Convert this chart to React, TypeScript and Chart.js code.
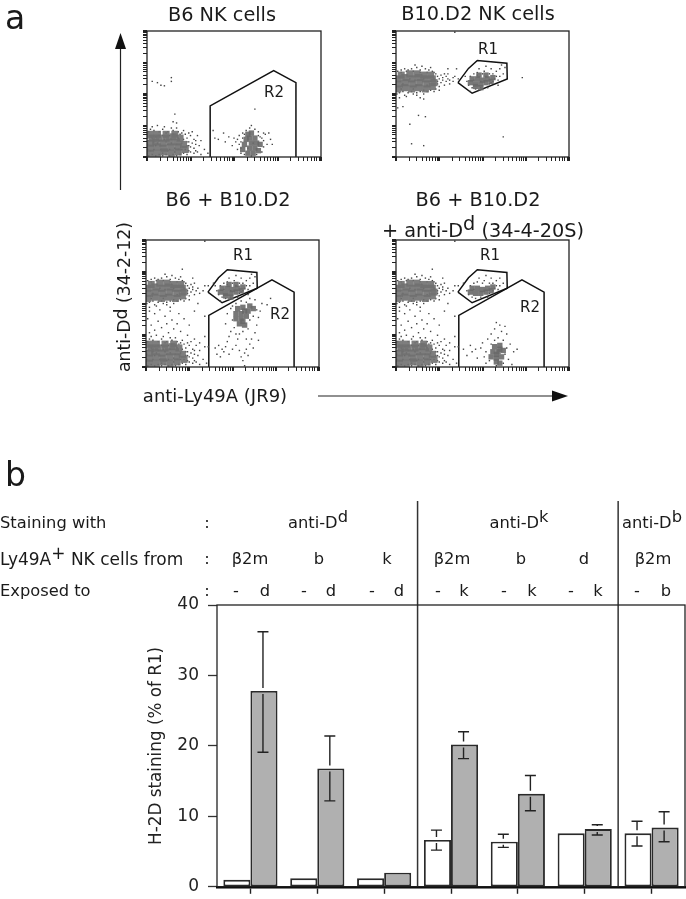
import React, { useEffect, useRef } from "react";
import { Chart, registerables } from "chart.js";

Chart.register(...registerables);

type P = number[];
const FONT = "'DejaVu Sans', sans-serif";

// ---- Bar chart values ----
const groups = ["anti-Dd β2m", "anti-Dd b", "anti-Dd k", "anti-Dk β2m", "anti-Dk b", "anti-Dk d", "anti-Db β2m"];
const unexposed = [1.0, 1.2, 1.2, 6.65, 6.4, 7.6, 7.6];
const exposed = [27.8, 16.8, 2.0, 20.2, 13.2, 8.2, 8.4];
const unexposedHigh = [null, null, null, 8.05, 7.45, null, 9.3];
const unexposedLow = [null, null, null, 5.2, 5.6, null, 5.8];
const exposedHigh = [36.2, 21.4, null, 22.0, 15.8, 8.8, 10.65];
const exposedLow = [19.1, 12.2, null, 18.2, 10.8, 7.35, 6.4];
const yTicks = [0, 10, 20, 30, 40];
const dividerAfterGroup = [2.5, 5.5];

// ---- Flow cytometry values, in percent of each axis (4 log decades = 100) ----
const gateR2: P[] = [[36.3, 0], [36.3, 40.6], [72.8, 68.6], [85.6, 59], [85.6, 0]];
const gateR1: P[] = [[35.8, 59], [41.9, 70.3], [47, 76.6], [64.1, 74.4], [64.3, 62], [44, 50.6], [35.8, 59]];

const lowLeftCore: P[] = [[2, 3], [6, 3], [10, 4], [14, 3], [18, 4], [2, 7], [6, 8], [10, 7], [14, 8], [18, 8], [22, 6], [2, 11], [5, 12], [9, 11], [13, 12], [17, 12], [21, 10], [3, 15], [7, 15], [11, 15], [15, 16], [19, 15], [2, 18], [6, 18], [11, 18], [16, 18]];
const lowLeftDots: P[] = [[1, 1], [3, 2], [5, 1], [7, 2], [9, 1], [11, 2], [13, 1], [15, 2], [17, 1], [19, 2], [21, 3], [23, 2], [22, 6], [24, 5], [25, 8], [23, 9], [26, 11], [24, 12], [27, 7], [28, 13], [23, 15], [25, 17], [22, 18], [20, 19], [18, 20], [15, 21], [12, 20], [9, 22], [7, 20], [4, 21], [2, 22], [1, 20], [3, 24], [10, 24], [14, 23], [17, 23], [21, 21], [6, 25], [0.5, 6], [0.5, 10], [0.5, 15], [4, 6], [8, 6], [12, 10], [16, 7], [20, 6], [6, 11], [10, 14], [14, 11], [18, 15], [3, 15], [7, 17], [11, 19], [15, 18], [13, 6], [17, 10], [30, 9], [29, 4], [31, 13], [27, 3], [33, 6], [29, 17], [26, 20], [31, 2], [35, 3], [2, 5], [5, 9], [9, 3], [12, 5], [16, 4], [20, 11], [23, 12], [8, 9], [11, 12], [14, 14], [18, 6], [21, 14], [4, 12], [7, 13], [1, 13], [5, 16], [9, 17], [13, 17], [17, 17], [19, 18], [24, 9], [27, 14], [25, 4], [28, 10], [24, 19], [28, 5]];

const upLeftCore: P[] = [[1, 54], [5, 55], [9, 54], [13, 55], [17, 54], [21, 56], [2, 58], [6, 59], [10, 58], [14, 59], [18, 58], [22, 59], [1, 62], [5, 63], [9, 62], [13, 63], [17, 62], [21, 62], [3, 65], [8, 66], [12, 66], [16, 65], [20, 65]];
const upLeftDots: P[] = [[0.5, 50], [2, 51], [4, 52], [7, 51], [9, 52], [12, 51], [14, 52], [16, 50], [18, 52], [20, 53], [23, 54], [25, 56], [24, 58], [26, 59], [27, 61], [25, 62], [24, 64], [26, 65], [23, 66], [21, 68], [19, 69], [17, 70], [14, 69], [12, 71], [9, 70], [7, 69], [5, 70], [3, 69], [1, 68], [11, 73], [15, 72], [20, 71], [29, 60], [30, 62], [28, 57], [31, 58], [4, 58], [8, 62], [12, 57], [16, 62], [20, 60], [6, 65], [11, 61], [15, 65], [3, 54], [10, 54], [18, 57], [22, 62], [33, 60], [34, 64], [2, 47], [6, 48], [14, 47], [3, 67], [6, 68], [10, 68], [14, 67], [18, 67], [22, 67], [24, 60], [25, 53], [22, 52], [10, 50], [5, 49], [12, 49], [16, 53], [27, 63], [28, 66]];

const r1Core: P[] = [[43, 59], [46, 58], [49, 58], [52, 59], [55, 60], [44, 62], [47, 62], [50, 61], [53, 62], [56, 63], [46, 56], [49, 55], [48, 65], [52, 65]];
const r1Dots: P[] = [[41, 60], [42, 57], [43, 64], [44, 55], [45, 66], [46, 54], [47, 67], [49, 55], [50, 66], [51, 68], [53, 55], [54, 58], [54, 66], [56, 60], [57, 62], [58, 64], [56, 66], [59, 61], [60, 64], [58, 68], [60, 70], [62, 66], [55, 70], [52, 72], [48, 70], [45, 61], [49, 60], [52, 64], [47, 65], [55, 59], [61, 73], [63, 71], [40, 64], [43, 52], [59, 57]];

const r2LowCoreB6: P[] = [[55, 6], [58, 3], [61, 3], [64, 5], [56, 10], [59, 7], [62, 7], [65, 10], [57, 14], [60, 11], [63, 11], [59, 15], [62, 15], [60, 19], [58, 18]];
const r2LowDotsB6: P[] = [[49, 9], [50, 15], [52, 6], [51, 12], [53, 17], [54, 3], [54, 12], [55, 19], [56, 2], [57, 21], [58, 7], [59, 23], [60, 1], [60, 25], [61, 11], [62, 22], [63, 2], [64, 20], [65, 16], [66, 4], [67, 13], [67, 8], [68, 18], [69, 10], [70, 19], [71, 14], [72, 10], [44, 19], [45, 12], [47, 16], [38, 21], [41, 14], [39, 15], [62, 38], [53, 10], [52, 14], [55, 15], [66, 15], [67, 19], [64, 17], [56, 18], [54, 7]];

const r2LowCoreMix: P[] = [[55, 8], [58, 7], [61, 8], [56, 12], [59, 12], [62, 13], [57, 16], [60, 17], [58, 4], [60, 3], [58, 10], [60, 14]];
const r2LowDotsMix: P[] = [[43, 17], [44, 12], [46, 14], [47, 7], [49, 15], [50, 19], [51, 8], [52, 3], [52, 12], [53, 22], [54, 5], [55, 18], [55, 26], [57, 21], [57, 30], [58, 1], [59, 23], [60, 33], [61, 28], [62, 3], [62, 21], [63, 10], [64, 15], [64, 26], [65, 6], [66, 18], [67, 2], [68, 12], [70, 14], [58, 35], [39, 14], [41, 9], [63, 32]];

const r2MidCore: P[] = [[52, 42], [55, 38], [57, 44], [60, 48], [54, 34], [58, 40], [62, 46], [56, 47], [53, 46], [57, 33], [55, 42], [59, 44], [52, 38], [56, 36]];
const r2MidDots: P[] = [[50, 37], [51, 31], [52, 26], [53, 22], [49, 28], [48, 24], [47, 20], [46, 16], [44, 14], [42, 17], [40, 15], [41, 10], [43, 8], [45, 12], [48, 10], [50, 14], [52, 17], [54, 13], [55, 8], [56, 5], [57, 11], [58, 14], [59, 9], [60, 18], [61, 22], [62, 15], [63, 27], [64, 33], [65, 39], [66, 44], [67, 50], [63, 53], [60, 54], [58, 51], [55, 52], [52, 50], [49, 46], [47, 42], [56, 28], [59, 30], [60, 37], [62, 40], [64, 45], [50, 48], [46, 34], [54, 26], [58, 22], [57, 1], [65, 21], [70, 49], [72, 54]];

const lowLeftDotsMix: P[] = [[2, 27], [5, 29], [9, 31], [13, 27], [16, 30], [12, 34], [7, 36], [3, 33], [1, 38], [5, 42], [11, 40], [15, 37], [18, 34], [20, 28], [24, 25], [28, 22], [31, 19], [36, 16], [8, 45], [14, 44], [19, 42], [22, 38], [25, 33], [2, 44], [34, 24]];

const outliersB6: P[] = [[3, 60], [6, 59], [8, 57], [10, 56.5], [14, 63], [14, 60], [16, 34], [15, 28], [17, 27]];
const outliersD2: P[] = [[4, 40], [1, 39], [13, 33], [17, 32], [8, 26], [9, 10.5], [16, 9], [62, 16], [73, 63], [16, 46], [34, 99], [30, 70], [35, 70], [30, 66], [31, 61], [29, 64], [33, 63], [36, 62]];
const outliersMix: P[] = [[30, 50], [34, 40], [28, 44], [34, 16], [27, 70], [21, 77], [34, 99], [36, 64], [39, 66]];

const flowPanels = [
  { left: 147, top: 31, width: 174, height: 126, core: [lowLeftCore], small: [r2LowCoreB6], dots: [lowLeftDots, r2LowDotsB6, outliersB6], gates: [gateR2] },
  { left: 396, top: 31, width: 173, height: 126, core: [upLeftCore], small: [r1Core], dots: [upLeftDots, r1Dots, outliersD2], gates: [gateR1] },
  { left: 146, top: 240, width: 173, height: 127, core: [upLeftCore, lowLeftCore], small: [r1Core, r2MidCore], dots: [upLeftDots, lowLeftDots, lowLeftDotsMix, r1Dots, r2MidDots, outliersMix], gates: [gateR1, gateR2] },
  { left: 396, top: 240, width: 173, height: 127, core: [upLeftCore, lowLeftCore], small: [r1Core.slice(0, 10), r2LowCoreMix], dots: [upLeftDots, lowLeftDots, lowLeftDotsMix, r1Dots.slice(0, 26), r2LowDotsMix, outliersMix], gates: [gateR1, gateR2] },
];

const logMultipliers = [1, 2, 3, 4, 5, 6, 7, 8, 9];

const framePlugin = {
  id: "frame",
  afterDatasetsDraw(chart: any) {
    const { ctx, chartArea: a } = chart;
    ctx.save();
    ctx.strokeStyle = "#222";
    ctx.lineWidth = 1.3;
    ctx.strokeRect(a.left, a.top, a.right - a.left, a.bottom - a.top);
    ctx.restore();
  },
};

const logTickScale = (size: number, horizontal: boolean) => ({
  type: "linear",
  min: 0,
  max: 100,
  afterBuildTicks(scale: any) {
    const t: any[] = [];
    for (let d = 0; d < 4; d++) for (const k of logMultipliers) t.push({ value: 25 * (d + Math.log10(k)), major: k === 1 });
    t.push({ value: 100, major: true });
    scale.ticks = t;
  },
  afterFit(scale: any) {
    if (horizontal) scale.height = size;
    else scale.width = size;
  },
  ticks: { display: false, autoSkip: false },
  border: { display: false },
  grid: {
    drawOnChartArea: false,
    tickLength: 4,
    tickColor: "#222",
    lineWidth: (c: any) => (c.tick && c.tick.major ? 2 : 1),
  },
});

function FlowPanel({ panel }: { panel: (typeof flowPanels)[number] }) {
  const ref = useRef<HTMLCanvasElement>(null);
  useEffect(() => {
    const toXY = (l: P[]) => l.map(([x, y]) => ({ x, y }));
    const chart = new Chart(ref.current as any, {
      type: "scatter",
      data: {
        datasets: [
          { data: toXY(panel.core.flat()), pointStyle: "rect", pointRadius: 5, pointBorderWidth: 0, pointBackgroundColor: "rgba(112,112,112,0.9)" },
          { data: toXY(panel.small.flat()), pointStyle: "rect", pointRadius: 3.8, pointBorderWidth: 0, pointBackgroundColor: "rgba(105,105,105,0.9)" },
          { data: toXY(panel.dots.flat()), pointStyle: "rect", pointRadius: 1, pointBorderWidth: 0, pointBackgroundColor: "#444" },
          ...panel.gates.map((g) => ({ data: toXY(g), showLine: true, pointRadius: 0, borderColor: "#111", borderWidth: 1.5, fill: false })),
        ],
      } as any,
      options: {
        animation: false,
        responsive: false,
        layout: { padding: { top: 1, right: 1, left: 0, bottom: 0 } },
        plugins: { legend: { display: false }, tooltip: { enabled: false } },
        scales: { x: logTickScale(8, true), y: logTickScale(8, false) } as any,
      },
      plugins: [framePlugin],
    } as any);
    return () => chart.destroy();
  }, [panel]);
  return (
    <canvas
      ref={ref}
      width={panel.width + 13}
      height={panel.height + 13}
      style={{ position: "absolute", left: panel.left - 8, top: panel.top - 5, display: "block" }}
    />
  );
}

const errorPlugin = {
  id: "errorBars",
  afterDatasetsDraw(chart: any) {
    const { ctx, scales } = chart;
    const lists = [
      { meta: 0, values: unexposed, high: unexposedHigh, low: unexposedLow },
      { meta: 1, values: exposed, high: exposedHigh, low: exposedLow },
    ];
    ctx.save();
    ctx.strokeStyle = "#222";
    ctx.lineWidth = 1.4;
    lists.forEach((s) => {
      chart.getDatasetMeta(s.meta).data.forEach((bar: any, i: number) => {
        const hi = s.high[i];
        const lo = s.low[i];
        if (hi == null || lo == null) return;
        const x = bar.x - 1;
        const yh = scales.y.getPixelForValue(hi);
        const yl = scales.y.getPixelForValue(lo);
        const yv = scales.y.getPixelForValue(s.values[i]);
        ctx.beginPath();
        ctx.moveTo(x - 5.5, yh);
        ctx.lineTo(x + 5.5, yh);
        ctx.moveTo(x, yh);
        ctx.lineTo(x, Math.max(yh, yv - 3));
        ctx.moveTo(x, Math.min(yl, yv + 3));
        ctx.lineTo(x, yl);
        ctx.moveTo(x - 5.5, yl);
        ctx.lineTo(x + 5.5, yl);
        ctx.stroke();
      });
    });
    ctx.restore();
  },
};

const dividerPlugin = {
  id: "dividers",
  afterDatasetsDraw(chart: any) {
    const { ctx, scales, chartArea } = chart;
    ctx.save();
    ctx.strokeStyle = "#333";
    ctx.lineWidth = 1.5;
    dividerAfterGroup.forEach((g) => {
      const x = scales.x.getPixelForValue(g);
      ctx.beginPath();
      ctx.moveTo(x, 6);
      ctx.lineTo(x, chartArea.bottom);
      ctx.stroke();
    });
    ctx.restore();
  },
};

function BarPanel() {
  const ref = useRef<HTMLCanvasElement>(null);
  useEffect(() => {
    const chart = new Chart(ref.current as any, {
      type: "bar",
      data: {
        labels: groups,
        datasets: [
          { label: "-", data: unexposed, backgroundColor: "#fff", borderColor: "#2a2a2a", borderWidth: 1.9, borderSkipped: false },
          { label: "exposed", data: exposed, backgroundColor: "#b0b0b0", borderColor: "#2a2a2a", borderWidth: 1.9, borderSkipped: false },
        ],
      },
      options: {
        animation: false,
        responsive: false,
        layout: { padding: { top: 110, right: 1, left: 147, bottom: 0 } },
        plugins: { legend: { display: false }, tooltip: { enabled: false } },
        datasets: { bar: { categoryPercentage: 0.81, barPercentage: 1 } },
        scales: {
          x: {
            afterFit(s: any) { s.height = 13; },
            ticks: { display: false },
            border: { color: "#000", width: 2.5 },
            grid: { offset: false, drawOnChartArea: false, tickLength: 7, tickColor: "#222", tickWidth: 1.4 },
          },
          y: {
            min: 0,
            max: 40,
            afterFit(s: any) { s.width = 70; },
            afterBuildTicks(s: any) { s.ticks = yTicks.map((value) => ({ value })); },
            ticks: { color: "#222", padding: 9, font: { family: FONT, size: 17 } },
            border: { display: false },
            grid: { drawOnChartArea: false, tickLength: 9, tickColor: "#333", tickWidth: 1.3 },
            title: { display: true, text: "H-2D staining (% of R1)", color: "#222", padding: 0, font: { family: FONT, size: 16.8 } },
          },
        },
      } as any,
      plugins: [errorPlugin, dividerPlugin, framePlugin],
    } as any);
    return () => chart.destroy();
  }, []);
  return <canvas ref={ref} width={686} height={411} style={{ position: "absolute", left: 0, top: 495, display: "block" }} />;
}

function T({ x, y, size = 16.3, anchor = "c", rotate = 0, children }: any) {
  const tx = anchor === "c" ? "-50%" : "0";
  return (
    <div
      style={{
        position: "absolute",
        left: x,
        top: y,
        fontSize: size,
        lineHeight: 1,
        whiteSpace: "nowrap",
        color: "#1a1a1a",
        transform: `translate(${tx}, -50%)${rotate ? ` rotate(${rotate}deg)` : ""}`,
      }}
    >
      {children}
    </div>
  );
}

const Up = ({ children }: any) => <span style={{ position: "relative", top: "-0.35em", lineHeight: 0 }}>{children}</span>;

const row1 = 523;
const row2 = 559;
const row3 = 591;
const stainLabels: [number, string, string][] = [[318, "anti-D", "d"], [519, "anti-D", "k"], [652, "anti-D", "b"]];
const originLabels: [number, string][] = [[250, "β2m"], [319, "b"], [387, "k"], [452, "β2m"], [521, "b"], [584, "d"], [653, "β2m"]];
const exposureLabels: [number, string][] = [[236, "-"], [265, "d"], [304, "-"], [331, "d"], [372, "-"], [399, "d"], [438, "-"], [464, "k"], [504, "-"], [532, "k"], [571, "-"], [598, "k"], [637, "-"], [666, "b"]];
const gateLabels: [number, number, string][] = [[274, 92, "R2"], [488, 49, "R1"], [243, 255, "R1"], [280, 314, "R2"], [490, 255, "R1"], [530, 307, "R2"]];

export default function App() {
  return (
    <div style={{ position: "absolute", left: 0, top: 0, width: 686, height: 899, background: "#fff", overflow: "hidden", fontFamily: FONT }}>
      {flowPanels.map((p, i) => <FlowPanel key={i} panel={p} />)}
      <BarPanel />

      <svg width={686} height={899} style={{ position: "absolute", left: 0, top: 0, pointerEvents: "none" }}>
        <line x1={120.5} y1={46} x2={120.5} y2={190} stroke="#222" strokeWidth={1.2} />
        <polygon points="120.5,33 115,49 126,49" fill="#111" />
        <line x1={318} y1={396} x2={556} y2={396} stroke="#222" strokeWidth={1.2} />
        <polygon points="568,396 552,390.5 552,401.5" fill="#111" />
      </svg>

      <T x={5} y={17} size={33} anchor="l">a</T>
      <T x={5} y={474} size={33} anchor="l">b</T>

      <T x={222} y={15} size={19.3}>B6 NK cells</T>
      <T x={478} y={14} size={19.3}>B10.D2 NK cells</T>
      <T x={228} y={200} size={19.3}>B6 + B10.D2</T>
      <T x={478} y={200} size={19.3}>B6 + B10.D2</T>
      <T x={483} y={231} size={19.3}>+ anti-D<Up>d</Up> (34-4-20S)</T>

      <T x={125} y={297} size={17.3} rotate={-90}>anti-D<span style={{ position: "relative", top: "-0.15em" }}>d</span> (34-2-12)</T>
      <T x={215} y={396} size={18}>anti-Ly49A (JR9)</T>

      {gateLabels.map(([x, y, s], i) => <T key={i} x={x} y={y} size={15}>{s}</T>)}

      <T x={0} y={row1} anchor="l">Staining with</T>
      <T x={0} y={row2} anchor="l" size={17}>Ly49A<Up>+</Up> NK cells from</T>
      <T x={0} y={row3} anchor="l">Exposed to</T>
      <T x={207} y={row1}>:</T>
      <T x={207} y={row2}>:</T>
      <T x={207} y={row3}>:</T>
      {stainLabels.map(([x, s, u], i) => <T key={i} x={x} y={row1}>{s}<Up>{u}</Up></T>)}
      {originLabels.map(([x, s], i) => <T key={i} x={x} y={row2}>{s}</T>)}
      {exposureLabels.map(([x, s], i) => <T key={i} x={x} y={row3}>{s}</T>)}
    </div>
  );
}
